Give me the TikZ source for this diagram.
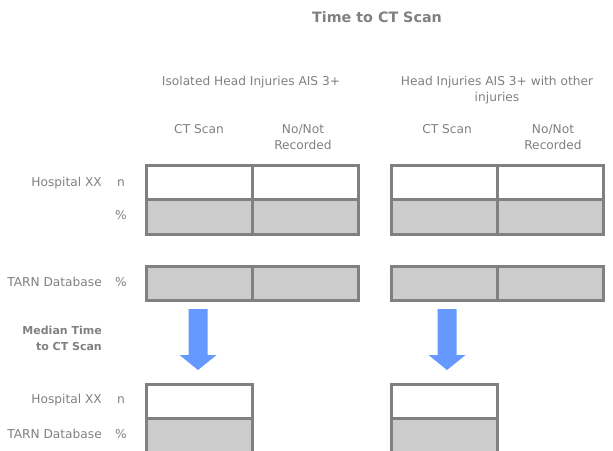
\documentclass[tikz,border=0pt]{standalone}
\usepackage{fontspec}
\setmainfont{DejaVu Sans}
\begin{document}
\begin{tikzpicture}[x=1pt,y=-1pt,
  every node/.style={text=labelgray},
  lbl/.style={font=\fontsize{12.2}{16.5}\selectfont, align=center, inner sep=0pt},
  rowlbl/.style={lbl, anchor=east},
  boldlbl/.style={font=\bfseries\fontsize{11}{16}\selectfont, align=right, inner sep=0pt, anchor=east},
  cell/.style={draw=bordergray, line width=3pt, minimum width=106pt, minimum height=34.5pt, inner sep=0pt, outer sep=0pt, anchor=north west},
  blank/.style={cell, fill=white},
  shaded/.style={cell, fill=cellgray},
  downarrow/.style={fill=arrowblue, draw=none}
]
\definecolor{labelgray}{HTML}{808080}
\definecolor{bordergray}{HTML}{808080}
\definecolor{cellgray}{HTML}{CCCCCC}
\definecolor{arrowblue}{HTML}{6699FF}
\useasboundingbox (0,0) rectangle (613,450);

% title and column headings
\node[lbl, font=\bfseries\fontsize{14.3}{16}\selectfont] (title) at (377,17) {Time to CT Scan};
\node[lbl] (grpA) at (251,82) {Isolated Head Injuries AIS 3+};
\node[lbl] (grpB) at (497,90) {Head Injuries AIS 3+ with other\\injuries};
\node[lbl] (hA1) at (199,129) {CT Scan};
\node[lbl] (hA2) at (303,137) {No/Not\\Recorded};
\node[lbl] (hB1) at (447,129) {CT Scan};
\node[lbl] (hB2) at (553,137) {No/Not\\Recorded};

% row labels
\node[rowlbl] (hosp) at (102,183) {Hospital XX};
\node[lbl] (hospn) at (121,183) {n};
\node[lbl] (hosppc) at (121,215) {\%};
\node[rowlbl] (tarn) at (102,282) {TARN Database};
\node[lbl] (tarnpc) at (121,282) {\%};
\node[boldlbl] (median) at (102,338) {Median Time\\to CT Scan};
\node[rowlbl] (hosp2) at (102,400) {Hospital XX};
\node[lbl] (hosp2n) at (121,400) {n};
\node[rowlbl] (tarn2) at (102,434) {TARN Database};
\node[lbl] (tarn2pc) at (121,434) {\%};

% left table: hospital n / % and TARN %
\node[blank]  (a11) at (146,165) {};
\node[blank]  (a12) at (252,165) {};
\node[shaded] (a21) at (146,199.5) {};
\node[shaded] (a22) at (252,199.5) {};
\node[shaded] (a31) at (146,266) {};
\node[shaded] (a32) at (252,266) {};

% right table
\node[blank]  (b11) at (391,165) {};
\node[blank]  (b12) at (497,165) {};
\node[shaded] (b21) at (391,199.5) {};
\node[shaded] (b22) at (497,199.5) {};
\node[shaded] (b31) at (391,266) {};
\node[shaded] (b32) at (497,266) {};

% median time tables
\node[blank]  (c1) at (146,384) {};
\node[shaded] (c2) at (146,418.5) {};
\node[blank]  (d1) at (391,384) {};
\node[shaded] (d2) at (391,418.5) {};

% block arrows leading down to the median tables
\foreach \n/\cx in {arrA/198, arrB/447} {
  \coordinate (\n) at (\cx,309);
  \fill[downarrow] (\n) ++(-9.5,0) -- ++(19,0) -- ++(0,46) -- ++(9,0)
    -- ++(-18.5,15) -- ++(-18.5,-15) -- ++(9,0) -- cycle;
}
\end{tikzpicture}
\end{document}
